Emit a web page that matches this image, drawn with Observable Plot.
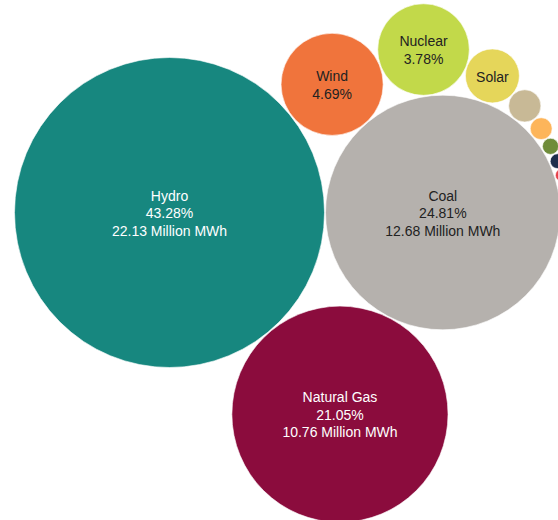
<!DOCTYPE html>
<html>
<head>
<meta charset="utf-8">
<script src="https://cdn.jsdelivr.net/npm/d3@7"></script>
<script src="https://cdn.jsdelivr.net/npm/@observablehq/plot@0.6"></script>
<style>
  html, body { margin: 0; padding: 0; background: #fff; }
  #chart { width: 558px; height: 520px; overflow: hidden; }
</style>
</head>
<body>
<div id="chart"></div>
<script>
// Electricity generation by source
const sources = ["Hydro", "Coal", "Natural Gas", "Wind", "Nuclear", "Solar", "Biomass", "Wood", "Petroleum", "Geothermal", "Other Gases", "Other"];
const shares  = [43.28, 24.81, 21.05, 4.69, 3.78, 1.31, 0.46, 0.22, 0.12, 0.09, 0.07, 0.02];
const millionMWh = [22.13, 12.68, 10.76, 2.40, 1.93, 0.67, 0.24, 0.11, 0.06, 0.05, 0.035, 0.01];
const colors = ["#17877f", "#b5b1ad", "#8b0c3d", "#f0743c", "#c2d94a", "#e5d65a", "#c8b996", "#fdb55a", "#6f8c3a", "#1e2d4b", "#e6414a", "#8a5a3c"];
const textColors = ["#ffffff", "#222222", "#ffffff", "#222222", "#222222", "#222222", "#222222", "#222222", "#222222", "#222222", "#222222", "#222222"];

const W = 558, H = 520;
const rDomain = [0, d3.max(millionMWh)];
const rRange = [0, 155];
const rFn = d3.scaleSqrt().domain(rDomain).range(rRange);

const data = sources.map((s, i) => ({
  source: s, share: shares[i], value: millionMWh[i],
  color: colors[i], textColor: textColors[i],
  r: rFn(millionMWh[i]) + 0.5
}));
data.sort((a, b) => b.value - a.value);

// Chain layout: c tangent to p and q, on the right-hand side of p→q (screen coords)
function placeTangent(p, q, c) {
  const dx = q.x - p.x, dy = q.y - p.y, d = Math.hypot(dx, dy);
  const a = p.r + c.r, b = q.r + c.r;
  const t = (a * a - b * b + d * d) / (2 * d);
  const h = Math.sqrt(Math.max(0, a * a - t * t));
  const ux = dx / d, uy = dy / d;
  c.x = p.x + t * ux - h * uy;
  c.y = p.y + t * uy + h * ux;
}
data[0].x = 0; data[0].y = 0;
data[1].x = data[0].r + data[1].r; data[1].y = 0;
placeTangent(data[0], data[1], data[2]);
for (let i = 3; i < data.length; i++) {
  placeTangent(data[1], i === 3 ? data[0] : data[i - 1], data[i]);
}

// anchor the layout: largest bubble centered at its place in the frame
const anchor = data[0];
const x0 = anchor.x - 169, y0 = anchor.y - 212;

const label = d => d.share >= 10
  ? `${d.source}\n${d.share.toFixed(2)}%\n${d.value.toFixed(2)} Million MWh`
  : d.share >= 2 ? `${d.source}\n${d.share.toFixed(2)}%`
  : d.share >= 1 ? d.source : "";

const chart = Plot.plot({
  width: W, height: H,
  margin: 0,
  style: { fontFamily: "'Liberation Sans', Arial, sans-serif", background: "#fff" },
  x: { domain: [x0, x0 + W], range: [0, W], axis: null },
  y: { domain: [y0, y0 + H], range: [0, H], axis: null },
  r: { type: "sqrt", domain: rDomain, range: rRange },
  color: { type: "identity" },
  marks: [
    Plot.dot(data, { x: "x", y: "y", r: "value", fill: "color", stroke: "#fff", strokeOpacity: 0.6, strokeWidth: 1, clip: true }),
    Plot.text(data, { x: "x", y: "y", text: label, fill: "textColor", fontSize: 14, lineHeight: 1.25, lineAnchor: "middle" })
  ]
});
document.getElementById("chart").appendChild(chart);
</script>
</body>
</html>
